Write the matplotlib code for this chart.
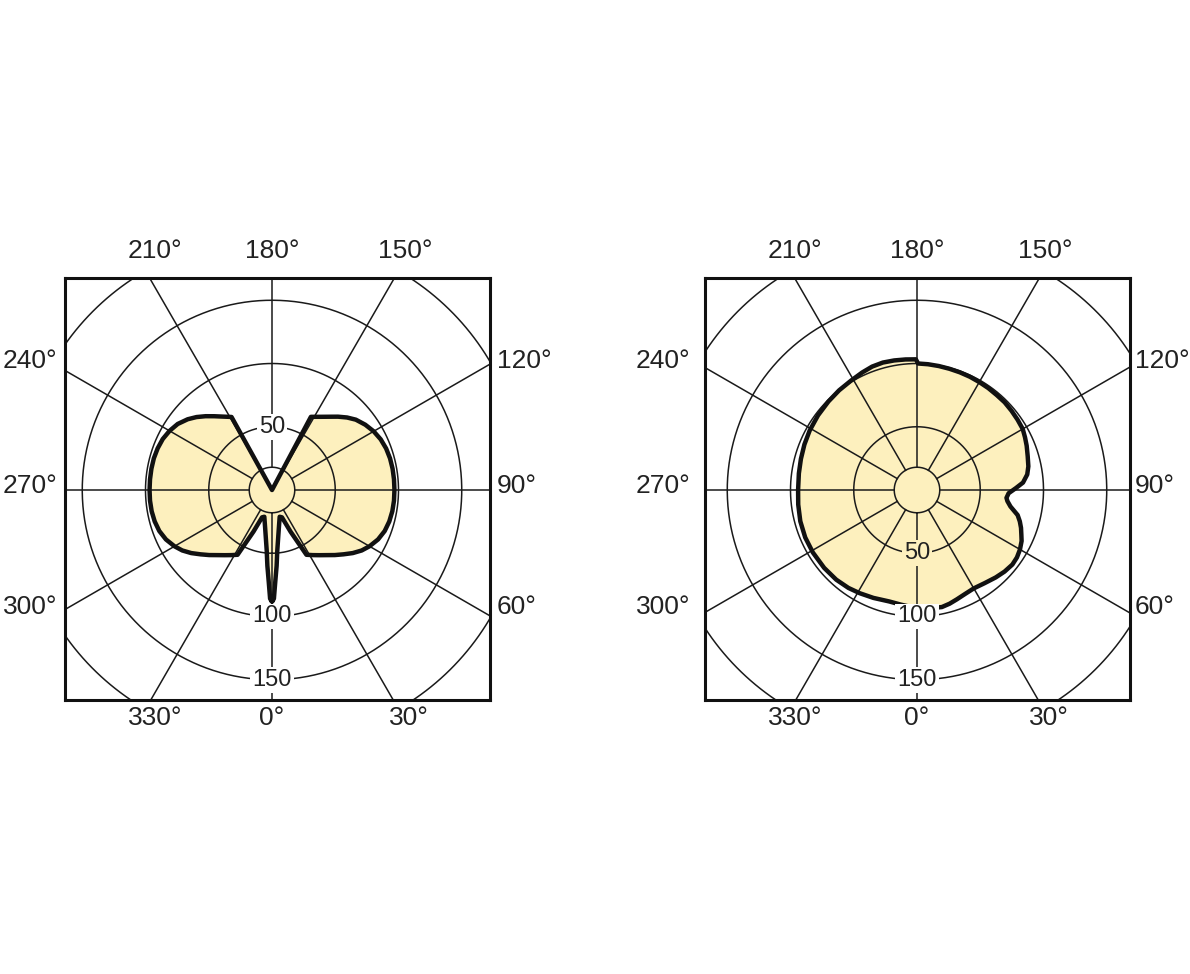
import numpy as np
import matplotlib.pyplot as plt

plt.rcParams['font.family'] = ['Liberation Sans', 'DejaVu Sans']

# Courbe de gauche : angle (degrés) -> intensité
angles_gauche = [0, 1, 2, 3.5, 5, 10, 16, 20, 24, 28, 32, 36, 40, 44, 48, 52, 56, 60,
                 65, 70, 75, 80, 85, 90, 95, 100, 105, 110, 115, 120, 125, 130, 134,
                 138, 142, 146, 150, 152, 152.5, 180,
                 208.5, 209, 211, 214, 218, 222, 226, 230, 235, 240, 245, 250, 255,
                 260, 265, 270, 275, 280, 285, 290, 295, 300, 304, 308, 312, 316, 320,
                 324, 328, 332, 336, 340, 344, 350, 355, 356.5, 358, 359]
valeurs_gauche = [88, 86, 73, 60, 48, 31, 22, 23, 36, 58, 60.7, 63.7, 67.2, 71.5, 76,
                  81, 85.5, 89, 92.5, 94.8, 96, 96.6, 96.8, 96.8, 96.8, 96.8, 96.6, 96,
                  94.8, 92.8, 90, 86.5, 82.5, 78, 73.5, 69.8, 66.8, 65.5, 0, 0,
                  0, 66, 67.5, 70, 74, 78.5, 83, 87, 91, 93.5, 95.3, 96.2, 96.7,
                  96.8, 96.8, 96.8, 96.8, 96.6, 96, 94.8, 92.5, 89, 85.5, 81, 76, 71.5,
                  67.2, 63.7, 60.7, 58, 36, 23, 22, 31, 48, 60, 73, 86]

# Courbe de droite
angles_droite = [0, 6, 12, 16, 20, 25, 30, 36, 42, 47, 52, 56, 60, 64, 67, 70, 73, 76,
                 80, 83, 85, 88, 91, 94, 98, 102, 107, 112, 116, 120, 125, 130, 135,
                 140, 145, 150, 155, 160, 165, 170, 175, 179.5, 180.5, 185, 190, 195,
                 200, 205, 211, 218, 225, 233, 241, 248, 255, 262, 270, 277, 285, 293,
                 301, 310, 318, 325, 331, 338, 346, 352, 356]
valeurs_droite = [93, 94, 94.6, 93.5, 92, 90.5, 89.8, 91, 93, 94.6, 95.7, 95.3, 94, 92,
                  89.6, 87.5, 85, 82, 75, 72, 71, 72.5, 78, 84, 88, 90, 91.5, 93.5, 95,
                  96.5, 97, 97.5, 98, 98, 98.3, 98.5, 98.8, 99, 99.2, 99.5, 99.8, 100,
                  103.3, 103.6, 104, 104.3, 103.8, 102.5, 101, 100, 99, 98, 97, 96, 95,
                  94.3, 94, 94.6, 95.5, 96, 96, 95.8, 95.4, 94.5, 93.3, 92, 90.8, 91.5,
                  92.3]

cercles = [50, 100, 150, 200]
rayon_centre = 18
rayons = list(range(0, 360, 30))
etiquettes_anneaux = [50, 100, 150]

JAUNE = '#fdf0be'
NOIR = '#111111'
GRILLE = '#1a1a1a'

W, H = 1190, 974
PX_PAR_UNITE = 1.265
R_MAX = 245

fig = plt.figure(figsize=(W / 100, H / 100), dpi=100)


def panneau(boite, centre, angles, valeurs, pos_anneaux, fonds_anneaux, ecart_g, ecart_d):
    bx0, by0, bx1, by1 = boite
    bw, bh = bx1 - bx0, by1 - by0
    cadre = fig.add_axes([bx0 / W, 1 - by1 / H, bw / W, bh / H])
    cadre.set_xticks([])
    cadre.set_yticks([])
    cadre.set_facecolor('none')
    for s in cadre.spines.values():
        s.set_linewidth(2.2)
        s.set_color(NOIR)
    cadre.set_zorder(2)

    cx, cy = centre
    demi = R_MAX * PX_PAR_UNITE
    ax = fig.add_axes([(cx - demi) / W, 1 - (cy + demi) / H, 2 * demi / W, 2 * demi / H],
                      projection='polar')
    ax.set_theta_zero_location('S')
    ax.set_theta_direction(1)
    ax.set_ylim(0, R_MAX)
    ax.set_xticks([])
    ax.set_yticks([])
    ax.grid(False)
    ax.spines['polar'].set_visible(False)
    ax.patch.set_visible(False)

    th = np.radians(angles)
    artistes = ax.fill(th, valeurs, color=JAUNE, lw=0, zorder=1)

    tour = np.linspace(0, 2 * np.pi, 500)
    for r in cercles + [rayon_centre]:
        artistes += ax.plot(tour, np.full_like(tour, r), color=GRILLE, lw=1.1, zorder=2)
    for a in rayons:
        artistes += ax.plot([np.radians(a)] * 2, [rayon_centre, R_MAX], color=GRILLE,
                            lw=1.1, zorder=2)

    artistes += ax.plot(np.append(th, th[0]), np.append(valeurs, valeurs[0]), color=NOIR,
                        lw=3.2, zorder=3, solid_joinstyle='round')
    for art in artistes:
        art.set_clip_path(cadre.patch)

    for r, a, fond in zip(etiquettes_anneaux, pos_anneaux, fonds_anneaux):
        ax.text(np.radians(a), r, str(r), ha='center', va='center', fontsize=17,
                color='#222222', zorder=5,
                bbox=dict(boxstyle='square,pad=0.08', fc=fond, ec='none'))

    # étiquettes d'angle autour du cadre (positions en pixels de l'image)
    xc = (cx - bx0) / bw
    def yf(py):
        return (by1 - py) / bh
    haut = 1 + 27 / bh
    bas = -18 / bh
    g = -ecart_g / bw
    d = 1 + ecart_d / bw
    places = {
        210: (0.212, haut, 'center'), 180: (xc, haut, 'center'), 150: (0.8, haut, 'center'),
        330: (0.212, bas, 'center'), 0: (xc, bas, 'center'), 30: (0.81, bas, 'center'),
        240: (g, yf(361), 'right'), 270: (g, yf(486), 'right'), 300: (g, yf(607), 'right'),
        120: (d, yf(361), 'left'), 90: (d, yf(486), 'left'), 60: (d, yf(607), 'left'),
    }
    for a, (x, y, ha) in places.items():
        cadre.text(x, y, f'{a}°', transform=cadre.transAxes, ha=ha, va='center',
                   fontsize=19, color='#222222', clip_on=False)


panneau((65, 278, 490, 700), (272, 490), angles_gauche, valeurs_gauche,
        [180, 0, 0], ['white', 'white', 'white'], 8, 7)
panneau((705, 278, 1130, 700), (917, 490), angles_droite, valeurs_droite,
        [0, 0, 0], [JAUNE, 'white', 'white'], 15, 5)

fig.savefig('out.png', dpi=100, facecolor='white')
